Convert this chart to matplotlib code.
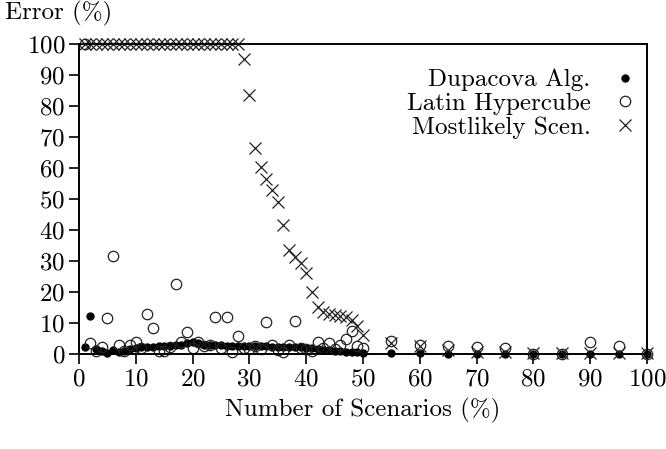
import numpy as np
import matplotlib
matplotlib.use('Agg')
import matplotlib.pyplot as plt

# 数据 (x: 场景数百分比)
x_vals = list(range(1, 51)) + list(range(55, 101, 5))

dupacova = [2.2, 12.3, 1.5, 1.0, 0.2, 1.2, 0.5, 1.0, 1.5, 2.0,
            2.2, 2.3, 2.4, 2.5, 2.5, 2.6, 2.8, 3.0, 3.5, 4.0,
            3.5, 3.0, 3.0, 2.8, 2.8, 2.7, 2.7, 2.7, 2.6, 2.6,
            2.5, 2.5, 2.5, 2.4, 2.4, 2.4, 2.3, 2.2, 2.2, 2.0,
            1.8, 1.6, 1.4, 1.2, 1.0, 0.9, 0.8, 0.6, 0.5, 0.3,
            0.3, 0.2, 0.1, 0.0, 0.0, 0.0, 0.0, 0.0, 0.0, 0.0]

latin = [100, 3.4, 1.0, 2.2, 11.7, 31.6, 2.9, 1.0, 2.9, 4.0,
         1.8, 12.9, 8.5, 1.0, 1.0, 2.2, 22.6, 4.0, 7.0, 1.8,
         4.0, 2.5, 3.0, 11.8, 1.8, 12.0, 0.8, 5.8, 1.8, 1.5,
         2.5, 1.5, 10.3, 2.9, 1.2, 0.8, 2.9, 10.5, 2.0, 1.5,
         1.0, 4.0, 2.0, 3.4, 1.5, 2.9, 5.0, 7.5, 2.5, 2.0,
         4.3, 3.0, 2.6, 2.3, 2.0, 0.1, 0.1, 4.0, 2.6, 0.0]

mostlikely = [100] * 28 + [
    95.2, 83.7, 66.5, 60.4, 56.3, 53.0, 49.1, 41.5, 33.5, 31.4,
    29.2, 26.0, 20.1, 15.3, 13.5, 13.0, 12.5, 12.2, 12.0, 11.0,
    9.0, 6.0,
    3.5, 2.6, 1.3, 0.7, 0.5, 0.3, 0.3, 0.3, 0.3, 0.3]

x_ticks = list(range(0, 101, 10))
y_ticks = list(range(0, 101, 10))

plt.rcParams['font.family'] = ['cmr10', 'DejaVu Serif']
plt.rcParams['mathtext.fontset'] = 'cm'
plt.rcParams['axes.formatter.use_mathtext'] = True
plt.rcParams['font.size'] = 18

fig = plt.figure(figsize=(6.66, 4.49), dpi=100)
ax = fig.add_axes([79 / 666, 1 - 354 / 449, (647 - 79) / 666, (354 - 44) / 449])

ax.plot(x_vals, dupacova, 'o', color='black', markersize=5,
        linestyle='none', label='Dupacova Alg.', clip_on=False)
ax.plot(x_vals, latin, 'o', markerfacecolor='none', markeredgecolor='#222222',
        markeredgewidth=0.9, markersize=7.5, linestyle='none',
        label='Latin Hypercube', clip_on=False)
ax.plot(x_vals, mostlikely, 'x', color='#222222', markeredgewidth=0.9,
        markersize=8, linestyle='none', label='Mostlikely Scen.', clip_on=False)

ax.set_xlim(0, 100)
ax.set_ylim(0, 100)
ax.set_xticks(x_ticks)
ax.set_yticks(y_ticks)
ax.tick_params(direction='out', length=7, width=1.2, top=False, right=False,
               labelsize=18, pad=3)
for s in ax.spines.values():
    s.set_linewidth(1.4)

ax.set_xlabel('Number of Scenarios (%)', labelpad=6, fontsize=18)
fig.text(5 / 666, 1 - 13 / 449, 'Error (%)', ha='left', va='center', fontsize=18)

ax.legend(loc='upper right', markerfirst=False, frameon=False,
          bbox_to_anchor=(1.0, 0.952), handlelength=1.0, handletextpad=0.85,
          labelspacing=0.05, borderaxespad=0.0, fontsize=18)

fig.savefig('out.png', dpi=100)
